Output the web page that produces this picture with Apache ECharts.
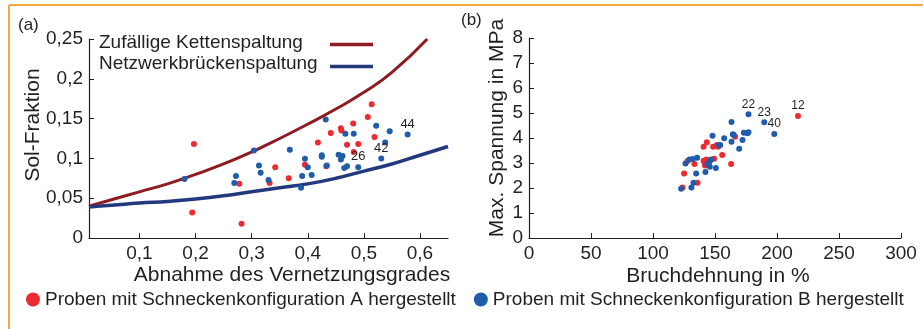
<!DOCTYPE html>
<html>
<head>
<meta charset="utf-8">
<script src="https://cdn.jsdelivr.net/npm/echarts@6/dist/echarts.min.js"></script>
<style>
html, body { margin: 0; padding: 0; background: #fff; }
#chart { width: 923px; height: 329px; }
</style>
</head>
<body>
<div id="chart"></div>
<script>
// (a) Sol-Fraktion vs. Abnahme des Vernetzungsgrades
const solA = [[0.197,0.118],[0.194,0.032],[0.278,0.068],[0.282,0.018],[0.332,0.069],[0.342,0.089],
  [0.366,0.075],[0.395,0.092],[0.418,0.120],[0.433,0.090],[0.441,0.132],[0.459,0.138],[0.460,0.135],
  [0.470,0.117],[0.481,0.144],[0.482,0.108],[0.490,0.118],[0.507,0.152],[0.514,0.168],[0.519,0.127]];
const solB = [[0.180,0.074],[0.269,0.069],[0.272,0.078],[0.304,0.110],[0.313,0.091],[0.316,0.082],
  [0.330,0.073],[0.368,0.111],[0.388,0.063],[0.390,0.078],[0.395,0.0995],[0.400,0.089],[0.407,0.079],
  [0.425,0.102],[0.425,0.104],[0.432,0.149],[0.434,0.091],[0.455,0.1045],[0.459,0.0987],[0.462,0.103],
  [0.465,0.088],[0.467,0.131],[0.470,0.090],[0.482,0.131],[0.490,0.089],[0.522,0.141],[0.531,0.0999],
  [0.538,0.120],[0.546,0.134],[0.578,0.130]];
const solTagsB = {29: '44', 26: '42', 24: '26'};
const curveRandom = [[0.01,0.040],[0.05,0.048],[0.1,0.058],[0.15,0.068],[0.2,0.080],[0.25,0.093],[0.3,0.108],
  [0.35,0.125],[0.4,0.143],[0.45,0.162],[0.5,0.183],[0.55,0.208],[0.613,0.25]];
const curveBridge = [[0.01,0.039],[0.05,0.041],[0.1,0.044],[0.15,0.046],[0.2,0.049],[0.25,0.053],[0.3,0.058],
  [0.35,0.063],[0.4,0.068],[0.45,0.075],[0.5,0.084],[0.55,0.093],[0.6,0.104],[0.65,0.115]];
const xTicksA = [0.1, 0.2, 0.3, 0.4, 0.5, 0.6];

// (b) Max. Spannung vs. Bruchdehnung
const stressA = [[216.9,4.88],[166.3,4.05],[143.4,3.83],[140.8,3.65],[148.5,3.65],[151.5,3.72],[152.5,3.65],
  [155.8,3.32],[149.3,3.17],[143.0,3.14],[140.8,3.09],[141.8,2.98],[133.4,2.96],[163.0,2.96],[127.8,3.08],
  [125.1,2.58],[135.9,2.21],[123.8,2.02],[142.0,2.90]];
const stressB = [[177.0,4.95],[189.7,4.63],[197.8,4.16],[163.3,4.64],[148.0,4.09],[164.4,4.15],[165.2,4.12],
  [157.4,3.99],[163.3,3.85],[173.3,4.21],[176.2,4.19],[177.0,4.23],[172.2,3.92],[169.5,3.57],[154.2,3.72],
  [153.1,3.71],[135.6,3.21],[132.1,3.16],[129.4,3.14],[126.2,2.98],[146.9,3.14],[145.8,3.08],[145.0,2.94],
  [145.8,2.85],[142.3,2.64],[134.8,2.58],[150.7,2.80],[132.7,2.21],[131.0,2.02],[122.7,1.97],[143.9,2.96]];
const stressTagsA = {0: '12'};
const stressTagsB = {0: '22', 1: '23', 2: '40'};

const nameA = 'Proben mit Schneckenkonfiguration A hergestellt';
const nameB = 'Proben mit Schneckenkonfiguration B hergestellt';
const red = '#EC2A30';
const blue = '#1F5CAB';
const ink = '#231F20';
const font = 'Liberation Sans, Arial, sans-serif';

function tagged(points, tags, size) {
  return points.map((p, i) => tags[i]
    ? { value: p, label: { show: true, formatter: tags[i], position: 'top', distance: 1, fontSize: size, color: ink, fontFamily: font } }
    : p);
}
const comma = v => String(+v.toFixed(2)).replace('.', ',');

const axisCommon = {
  axisLine: { lineStyle: { color: ink, width: 1.2 } },
  axisTick: { inside: true, length: 5, lineStyle: { color: ink } },
  axisLabel: { color: ink, fontSize: 19, fontFamily: font, margin: 6 },
  splitLine: { show: false }
};

const chart = echarts.init(document.getElementById('chart'));
chart.setOption({
  animation: false,
  backgroundColor: '#fff',
  grid: [
    { left: 89, top: 39, width: 359, height: 199, outerBoundsMode: 'none' },
    { left: 529, top: 38, width: 372, height: 200, outerBoundsMode: 'none' }
  ],
  xAxis: [
    Object.assign({}, axisCommon, {
      gridIndex: 0, type: 'value', min: 0.01, max: 0.65,
      axisTick: Object.assign({}, axisCommon.axisTick, { customValues: xTicksA }),
      axisLabel: Object.assign({}, axisCommon.axisLabel, { customValues: xTicksA, formatter: comma })
    }),
    Object.assign({}, axisCommon, {
      gridIndex: 1, type: 'value', min: 0, max: 300, interval: 50
    })
  ],
  yAxis: [
    Object.assign({}, axisCommon, {
      gridIndex: 0, type: 'value', min: 0, max: 0.25, interval: 0.05,
      axisLabel: Object.assign({}, axisCommon.axisLabel, { formatter: comma })
    }),
    Object.assign({}, axisCommon, {
      gridIndex: 1, type: 'value', min: 0, max: 8, interval: 1
    })
  ],
  legend: {
    data: [nameA, nameB],
    left: 26, top: 290, padding: 0,
    icon: 'circle', itemWidth: 14, itemHeight: 14, itemGap: 18,
    textStyle: { fontSize: 19, color: ink, fontFamily: font }
  },
  graphic: [
    { type: 'line', shape: { x1: 9, y1: 5, x2: 923, y2: 5 }, style: { stroke: '#F7A63E', lineWidth: 2 } },
    { type: 'line', shape: { x1: 9, y1: 5, x2: 9, y2: 329 }, style: { stroke: '#F7A63E', lineWidth: 2 } },
    { type: 'text', x: 18, y: 25, style: { text: '(a)', fontSize: 17, fill: ink, fontFamily: font, verticalAlign: 'middle' } },
    { type: 'text', x: 461, y: 20, style: { text: '(b)', fontSize: 17, fill: ink, fontFamily: font, verticalAlign: 'middle' } },
    { type: 'text', x: 33, y: 125, rotation: Math.PI / 2, style: { text: 'Sol-Fraktion', fontSize: 21, fill: ink, fontFamily: font, align: 'center', verticalAlign: 'middle' } },
    { type: 'text', x: 292, y: 275, style: { text: 'Abnahme des Vernetzungsgrades', fontSize: 21, fill: ink, fontFamily: font, align: 'center', verticalAlign: 'middle' } },
    { type: 'text', x: 497, y: 128, rotation: Math.PI / 2, style: { text: 'Max. Spannung in MPa', fontSize: 21, fill: ink, fontFamily: font, align: 'center', verticalAlign: 'middle' } },
    { type: 'text', x: 718, y: 276, style: { text: 'Bruchdehnung in %', fontSize: 21, fill: ink, fontFamily: font, align: 'center', verticalAlign: 'middle' } },
    // curve legend
    { type: 'text', x: 99, y: 43, style: { text: 'Zufällige Kettenspaltung', fontSize: 19, fill: ink, fontFamily: font, verticalAlign: 'middle' } },
    { type: 'text', x: 99, y: 64, style: { text: 'Netzwerkbrückenspaltung', fontSize: 19, fill: ink, fontFamily: font, verticalAlign: 'middle' } },
    { type: 'line', shape: { x1: 330, y1: 44.5, x2: 373, y2: 44.5 }, style: { stroke: '#8E1B20', lineWidth: 3.5 } },
    { type: 'line', shape: { x1: 330, y1: 66.5, x2: 373, y2: 66.5 }, style: { stroke: '#223A7D', lineWidth: 3.5 } }
  ],
  series: [
    { type: 'line', xAxisIndex: 0, yAxisIndex: 0, data: curveRandom, smooth: 0.5, showSymbol: false,
      lineStyle: { color: '#8E1B20', width: 3 }, z: 1 },
    { type: 'line', xAxisIndex: 0, yAxisIndex: 0, data: curveBridge, smooth: 0.5, showSymbol: false,
      lineStyle: { color: '#223A7D', width: 3.5 }, z: 1 },
    { name: nameA, type: 'scatter', xAxisIndex: 0, yAxisIndex: 0, data: solA, symbolSize: 6, itemStyle: { color: red, opacity: 1 }, z: 3 },
    { name: nameB, type: 'scatter', xAxisIndex: 0, yAxisIndex: 0, data: tagged(solB, solTagsB, 13), symbolSize: 6, itemStyle: { color: blue, opacity: 1 }, z: 3 },
    { name: nameA, type: 'scatter', xAxisIndex: 1, yAxisIndex: 1, data: tagged(stressA, stressTagsA, 12), symbolSize: 6, itemStyle: { color: red, opacity: 1 }, z: 3 },
    { name: nameB, type: 'scatter', xAxisIndex: 1, yAxisIndex: 1, data: tagged(stressB, stressTagsB, 12), symbolSize: 6, itemStyle: { color: blue, opacity: 1 }, z: 3 }
  ]
});
</script>
</body>
</html>
